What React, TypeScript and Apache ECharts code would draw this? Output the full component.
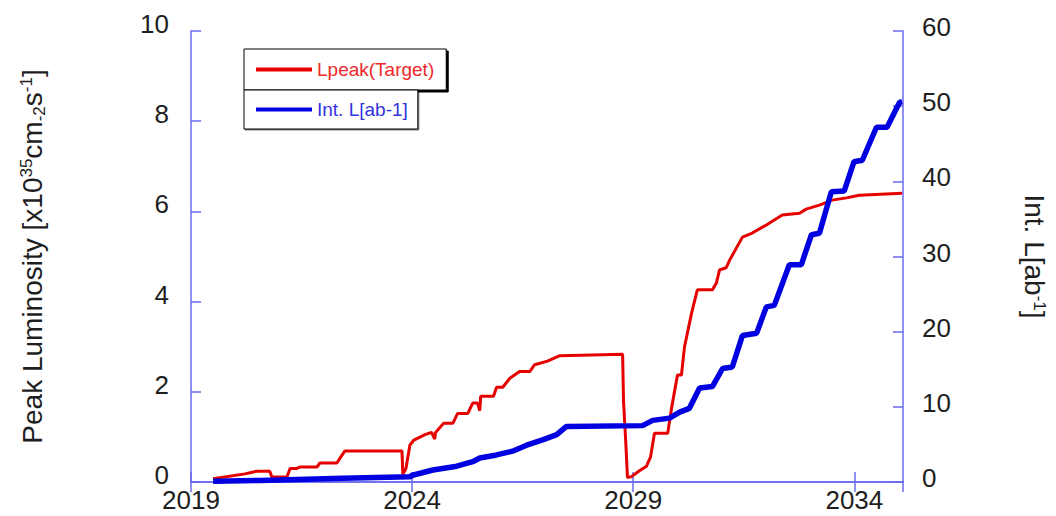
import React, { useEffect, useRef } from "react";
import * as echarts from "echarts";

// Peak luminosity (left axis, x10^35 cm-2 s-1)
const lpeakYears = [
  2019.5, 2020.22, 2020.49, 2020.78, 2020.83, 2021.17, 2021.24, 2021.39, 2021.46, 2021.85,
  2021.91, 2022.3, 2022.37, 2022.48, 2023.77, 2023.79, 2023.86, 2023.95, 2024.04, 2024.29,
  2024.44, 2024.51, 2024.53, 2024.71, 2024.92, 2025.03, 2025.26, 2025.37, 2025.48, 2025.53,
  2025.55, 2025.84, 2025.91, 2026.05, 2026.21, 2026.43, 2026.66, 2026.77, 2027.06, 2027.34,
  2028.76, 2028.78, 2028.83, 2028.87, 2028.96, 2029.14, 2029.3, 2029.39, 2029.48, 2029.78,
  2029.87, 2030.0, 2030.09, 2030.16, 2030.32, 2030.45, 2030.79, 2030.88, 2030.95, 2031.1,
  2031.18, 2031.47, 2031.69, 2032.01, 2032.37, 2032.76, 2032.91, 2033.21, 2033.5, 2033.82,
  2034.11, 2035.08,
];
const lpeakValues = [
  0.07, 0.18, 0.24, 0.24, 0.11, 0.11, 0.3, 0.3, 0.33, 0.33,
  0.42, 0.42, 0.53, 0.69, 0.69, 0.18, 0.3, 0.82, 0.93, 1.05,
  1.1, 0.95, 1.1, 1.3, 1.3, 1.52, 1.52, 1.75, 1.75, 1.58,
  1.9, 1.9, 2.1, 2.1, 2.3, 2.45, 2.45, 2.6, 2.68, 2.8,
  2.83, 1.8, 0.9, 0.1, 0.12, 0.25, 0.35, 0.55, 1.08, 1.08,
  1.66, 2.37, 2.37, 3.0, 3.75, 4.26, 4.26, 4.41, 4.7, 4.75,
  4.92, 5.43, 5.52, 5.7, 5.92, 5.96, 6.05, 6.14, 6.25, 6.3,
  6.36, 6.4,
];

// Integrated luminosity (right axis, ab-1)
const intYears = [
  2019.5, 2020.56, 2022.43, 2023.95, 2024.01, 2024.47, 2025.01, 2025.37, 2025.53, 2025.91,
  2026.27, 2026.59, 2026.95, 2027.27, 2027.49, 2029.21, 2029.44, 2029.82, 2030.05, 2030.27,
  2030.5, 2030.79, 2031.02, 2031.24, 2031.47, 2031.79, 2032.01, 2032.19, 2032.53, 2032.8,
  2033.03, 2033.21, 2033.48, 2033.77, 2033.99, 2034.18, 2034.5, 2034.74, 2035.02, 2035.08,
];
const intValues = [
  0.1, 0.2, 0.5, 0.7, 0.9, 1.6, 2.1, 2.7, 3.2, 3.6,
  4.1, 4.9, 5.6, 6.3, 7.4, 7.5, 8.2, 8.5, 9.3, 9.8,
  12.5, 12.7, 15.1, 15.3, 19.5, 19.8, 23.3, 23.5, 28.9, 28.9,
  32.9, 33.1, 38.6, 38.7, 42.6, 42.8, 47.2, 47.2, 50.5, 50.6,
];

const xTickYears = [2019, 2024, 2029, 2034];
const seriesNames = ["Lpeak(Target)", "Int. L[ab-1]"];

const FONT = "'Liberation Sans', Arial, sans-serif";
const AXIS_COLOR = "#6a6af0";
const TEXT_COLOR = "#1e1e1e";

export default function App() {
  const ref = useRef<HTMLDivElement>(null);

  useEffect(() => {
    if (!ref.current) return;
    const chart = echarts.init(ref.current, undefined, { renderer: "svg" });

    const lpeakData = lpeakYears.map((y, i) => [y, lpeakValues[i]]);
    const intData = intYears.map((y, i) => [y, intValues[i]]);

    const axisLine = { show: true, lineStyle: { color: AXIS_COLOR, width: 1.5 } };
    const axisTick = { show: true, inside: true, length: 10, lineStyle: { color: AXIS_COLOR, width: 1.5 } };

    const option: any = {
      animation: false,
      backgroundColor: "#ffffff",
      textStyle: { fontFamily: FONT },
      grid: { left: 191, right: 153, top: 31, bottom: 34, containLabel: false },
      legend: [
        {
          data: [{ name: seriesNames[0], textStyle: { color: "#ee2a2a" } }],
          left: 244,
          top: 49,
          orient: "horizontal",
          icon: "rect",
          itemWidth: 56,
          itemHeight: 4,
          padding: [11, 12, 11, 12],
          borderColor: "#000",
          borderWidth: 1,
          borderRadius: 0,
          backgroundColor: "#fff",
          shadowColor: "#000",
          shadowOffsetX: 2,
          shadowOffsetY: 2,
          shadowBlur: 0,
          textStyle: { fontSize: 19, fontFamily: FONT },
          selectedMode: false,
        },
        {
          data: [{ name: seriesNames[1], textStyle: { color: "#3232e0" } }],
          left: 244,
          top: 90,
          orient: "horizontal",
          icon: "rect",
          itemWidth: 56,
          itemHeight: 4,
          padding: [10, 10, 10, 12],
          borderColor: "#000",
          borderWidth: 1,
          borderRadius: 0,
          backgroundColor: "#fff",
          shadowColor: "rgba(0,0,0,0.5)",
          shadowOffsetX: 1,
          shadowOffsetY: 1,
          shadowBlur: 0,
          textStyle: { fontSize: 19, fontFamily: FONT },
          selectedMode: false,
        },
      ],
      xAxis: [
        {
          type: "value",
          position: "bottom",
          min: 2019,
          max: 2035.1,
          interval: 5,
          axisLine,
          axisTick,
          splitLine: { show: false },
          axisLabel: {
            fontSize: 26,
            lineHeight: 24,
            color: TEXT_COLOR,
            fontFamily: FONT,
            margin: 6,
            showMaxLabel: false,
            formatter: (v: number) => (xTickYears.includes(Math.round(v)) && Math.abs(v - Math.round(v)) < 1e-6 ? String(Math.round(v)) : ""),
          },
        },
        {
          type: "value",
          position: "top",
          min: 2019,
          max: 2035.1,
          interval: 5,
          axisLine,
          axisTick,
          splitLine: { show: false },
          axisLabel: { show: false },
        },
      ],
      yAxis: [
        {
          type: "value",
          position: "left",
          min: 0,
          max: 10,
          interval: 2,
          axisLine,
          axisTick,
          splitLine: { show: false },
          axisLabel: {
            fontSize: 26,
            lineHeight: 14,
            verticalAlign: "bottom",
            color: TEXT_COLOR,
            fontFamily: FONT,
            margin: 22,
          },
          name: "{a|Peak Luminosity [x10}{sup|35}{a|cm}{sub|-2}{a|s}{sup|-1}{a|]}",
          nameLocation: "middle",
          nameGap: 143,
          nameTextStyle: {
            color: TEXT_COLOR,
            fontFamily: FONT,
            fontSize: 28,
            rich: {
              a: { fontSize: 28, lineHeight: 30, verticalAlign: "top", color: TEXT_COLOR, fontFamily: FONT },
              sup: { fontSize: 17, lineHeight: 17, verticalAlign: "top", color: TEXT_COLOR, fontFamily: FONT },
              sub: { fontSize: 17, lineHeight: 17, padding: [23, 0, 0, 0], verticalAlign: "bottom", color: TEXT_COLOR, fontFamily: FONT },
            },
          },
        },
        {
          type: "value",
          position: "right",
          min: 0,
          max: 60,
          interval: 10,
          axisLine,
          axisTick,
          splitLine: { show: false },
          axisLabel: {
            fontSize: 26,
            lineHeight: 8,
            verticalAlign: "bottom",
            color: TEXT_COLOR,
            fontFamily: FONT,
            margin: 19,
          },
          name: "{a|Int. L[ab}{sup|-1}{a|]}",
          nameLocation: "middle",
          nameRotate: -90,
          nameGap: 115,
          nameTextStyle: {
            color: TEXT_COLOR,
            fontFamily: FONT,
            fontSize: 28,
            rich: {
              a: { fontSize: 28, lineHeight: 30, verticalAlign: "top", color: TEXT_COLOR, fontFamily: FONT },
              sup: { fontSize: 17, lineHeight: 17, verticalAlign: "top", color: TEXT_COLOR, fontFamily: FONT },
            },
          },
        },
      ],
      series: [
        {
          name: seriesNames[0],
          type: "line",
          xAxisIndex: 0,
          yAxisIndex: 0,
          data: lpeakData,
          showSymbol: false,
          symbol: "none",
          color: "#e60000",
          lineStyle: { color: "#e60000", width: 3 },
          z: 2,
        },
        {
          name: seriesNames[1],
          type: "line",
          xAxisIndex: 0,
          yAxisIndex: 1,
          data: intData,
          showSymbol: false,
          symbol: "none",
          color: "#0000e0",
          lineStyle: { color: "#0000e0", width: 5.5 },
          z: 3,
        },
      ],
    };

    chart.setOption(option);
    return () => {
      chart.dispose();
    };
  }, []);

  return (
    <div
      ref={ref}
      style={{ position: "fixed", left: 0, top: 0, width: 1056, height: 516, background: "#fff" }}
    />
  );
}
